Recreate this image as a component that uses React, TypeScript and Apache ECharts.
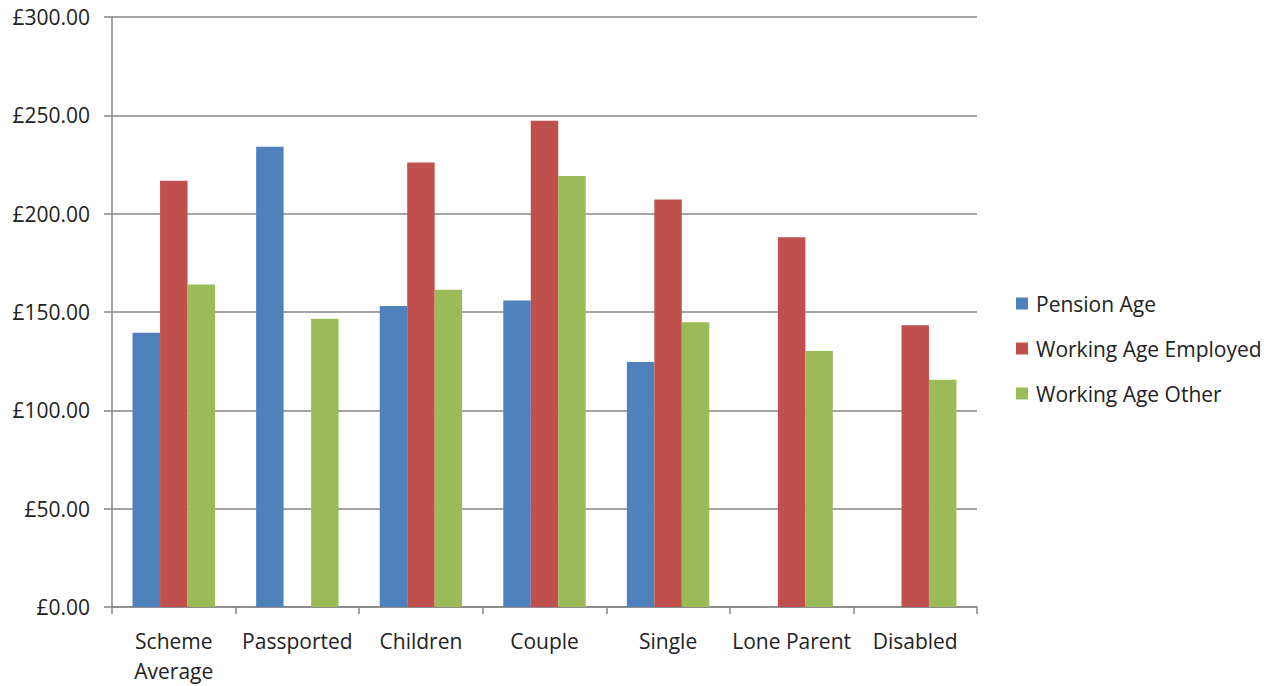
import React, { useEffect, useRef } from "react";
import * as echarts from "echarts";

const categories = ["Scheme\nAverage", "Passported", "Children", "Couple", "Single", "Lone Parent", "Disabled"];
const pensionAge = [139.4, 234.0, 153.1, 155.8, 124.6, null, null];
const workingAgeEmployed = [216.7, null, 226.0, 247.3, 207.2, 188.0, 143.2];
const workingAgeOther = [164.0, 146.6, 161.3, 219.2, 144.8, 130.2, 115.6];
const seriesNames = ["Pension Age", "Working Age Employed", "Working Age Other"];
const colors = ["#4F81BD", "#C0504D", "#9BBB59"];

const FONT = "Open Sans";
const FS = 21;

export default function App() {
  const ref = useRef<HTMLDivElement>(null);
  useEffect(() => {
    if (!ref.current) return;
    const chart = echarts.init(ref.current, undefined, { renderer: "svg" });
    const data = [pensionAge, workingAgeEmployed, workingAgeOther];
    chart.setOption({
      animation: false,
      backgroundColor: "#ffffff",
      color: colors,
      grid: { left: 112, right: 301, top: 17, bottom: 73, containLabel: false },
      legend: {
        orient: "vertical",
        left: 1011,
        top: 288,
        icon: "rect",
        itemWidth: 12,
        itemHeight: 12,
        itemGap: 24,
        data: seriesNames,
        textStyle: { fontFamily: FONT, fontSize: FS, color: "#222", lineHeight: 20, padding: [0, 0, 0, 3] },
      },
      xAxis: {
        type: "category",
        data: categories,
        boundaryGap: true,
        axisLine: { show: true, lineStyle: { color: "#868686", width: 1.5 } },
        axisTick: { show: true, length: 7, lineStyle: { color: "#868686", width: 1.5 } },
        axisLabel: {
          fontFamily: FONT,
          fontSize: FS,
          color: "#222",
          lineHeight: 30,
          margin: 19,
          interval: 0,
        },
      },
      yAxis: {
        type: "value",
        min: 0,
        max: 300,
        interval: 50,
        axisLine: { show: true, lineStyle: { color: "#868686", width: 1.5 } },
        axisTick: { show: true, length: 8, lineStyle: { color: "#868686", width: 1.5 } },
        splitLine: { show: true, lineStyle: { color: "#868686", width: 1.5 } },
        axisLabel: {
          fontFamily: FONT,
          fontSize: FS,
          color: "#222",
          margin: 22,
          formatter: (v: number) => "£" + v.toFixed(2),
        },
      },
      series: seriesNames.map((name, i) => ({
        name,
        type: "bar",
        data: data[i],
        barGap: "0%",
        barCategoryGap: "33.3%",
        itemStyle: { color: colors[i] },
      })),
    });
    return () => chart.dispose();
  }, []);
  return <div ref={ref} style={{ position: "fixed", left: 0, top: 0, width: 1278, height: 686 }} />;
}
